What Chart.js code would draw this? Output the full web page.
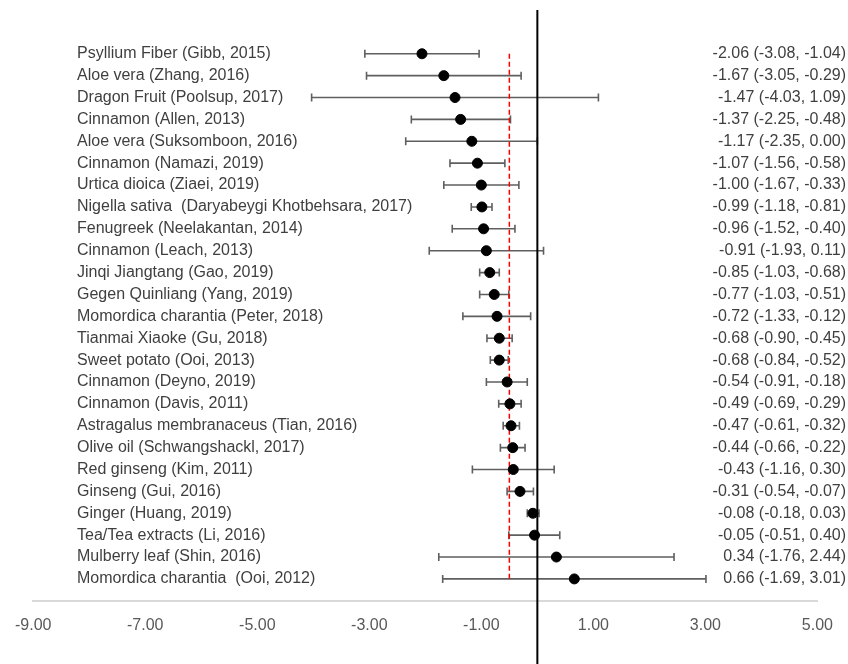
<!DOCTYPE html>
<html>
<head>
<meta charset="utf-8">
<script src="https://cdn.jsdelivr.net/npm/chart.js@4"></script>
<style>
  html, body { margin: 0; padding: 0; background: #fff; }
  #wrap { width: 848px; height: 664px; }
</style>
</head>
<body>
<div id="wrap"><canvas id="forest"></canvas></div>
<script>
const studies = [
  "Psyllium Fiber (Gibb, 2015)",
  "Aloe vera (Zhang, 2016)",
  "Dragon Fruit (Poolsup, 2017)",
  "Cinnamon (Allen, 2013)",
  "Aloe vera (Suksomboon, 2016)",
  "Cinnamon (Namazi, 2019)",
  "Urtica dioica (Ziaei, 2019)",
  "Nigella sativa  (Daryabeygi Khotbehsara, 2017)",
  "Fenugreek (Neelakantan, 2014)",
  "Cinnamon (Leach, 2013)",
  "Jinqi Jiangtang (Gao, 2019)",
  "Gegen Quinliang (Yang, 2019)",
  "Momordica charantia (Peter, 2018)",
  "Tianmai Xiaoke (Gu, 2018)",
  "Sweet potato (Ooi, 2013)",
  "Cinnamon (Deyno, 2019)",
  "Cinnamon (Davis, 2011)",
  "Astragalus membranaceus (Tian, 2016)",
  "Olive oil (Schwangshackl, 2017)",
  "Red ginseng (Kim, 2011)",
  "Ginseng (Gui, 2016)",
  "Ginger (Huang, 2019)",
  "Tea/Tea extracts (Li, 2016)",
  "Mulberry leaf (Shin, 2016)",
  "Momordica charantia  (Ooi, 2012)"
];
const effect = [-2.06, -1.67, -1.47, -1.37, -1.17, -1.07, -1.00, -0.99, -0.96, -0.91,
  -0.85, -0.77, -0.72, -0.68, -0.68, -0.54, -0.49, -0.47, -0.44, -0.43,
  -0.31, -0.08, -0.05, 0.34, 0.66];
const ciLow = [-3.08, -3.05, -4.03, -2.25, -2.35, -1.56, -1.67, -1.18, -1.52, -1.93,
  -1.03, -1.03, -1.33, -0.90, -0.84, -0.91, -0.69, -0.61, -0.66, -1.16,
  -0.54, -0.18, -0.51, -1.76, -1.69];
const ciHigh = [-1.04, -0.29, 1.09, -0.48, 0.00, -0.58, -0.33, -0.81, -0.40, 0.11,
  -0.68, -0.51, -0.12, -0.45, -0.52, -0.18, -0.29, -0.32, -0.22, 0.30,
  -0.07, 0.03, 0.40, 2.44, 3.01];
const pooledEffect = -0.50;
const xTicks = [-9, -7, -5, -3, -1, 1, 3, 5];

const rows = studies.map((s, i) => i + 1);
const ciText = effect.map((e, i) =>
  e.toFixed(2) + " (" + ciLow[i].toFixed(2) + ", " + ciHigh[i].toFixed(2) + ")");

const FONT = "'Liberation Sans', Arial, sans-serif";

// whiskers + text columns
const forestPlugin = {
  id: "forest",
  beforeDatasetsDraw(chart) {
    const { ctx, scales: { x, y } } = chart;
    ctx.save();
    ctx.strokeStyle = "#5f5f5f";
    ctx.lineWidth = 1.6;
    rows.forEach((r, i) => {
      const py = y.getPixelForValue(r);
      const x1 = x.getPixelForValue(ciLow[i]);
      const x2 = x.getPixelForValue(ciHigh[i]);
      ctx.beginPath();
      ctx.moveTo(x1, py); ctx.lineTo(x2, py);
      ctx.moveTo(x1, py - 4); ctx.lineTo(x1, py + 4);
      ctx.moveTo(x2, py - 4); ctx.lineTo(x2, py + 4);
      ctx.stroke();
    });
    ctx.restore();
  },
  afterDatasetsDraw(chart) {
    const { ctx, scales: { y } } = chart;
    ctx.save();
    ctx.fillStyle = "#3f3f3f";
    ctx.font = "16px " + FONT;
    ctx.textBaseline = "middle";
    rows.forEach((r, i) => {
      const py = y.getPixelForValue(r);
      ctx.textAlign = "left";
      ctx.fillText(studies[i], 77, py);
      ctx.textAlign = "right";
      ctx.fillText(ciText[i], 846, py);
    });
    ctx.restore();
  }
};

new Chart(document.getElementById("forest"), {
  type: "scatter",
  data: {
    datasets: [
      {
        label: "effect",
        data: effect.map((e, i) => ({ x: e, y: rows[i] })),
        pointRadius: 5,
        pointHoverRadius: 5,
        backgroundColor: "#000",
        borderColor: "#000",
        order: 0
      },
      {
        label: "zero",
        data: [{ x: 0, y: -1 }, { x: 0, y: 30 }],
        showLine: true,
        pointRadius: 0,
        borderColor: "#000",
        borderWidth: 2,
        clip: false,
        order: 1
      },
      {
        label: "pooled",
        data: [{ x: pooledEffect, y: 1 }, { x: pooledEffect, y: 25 }],
        showLine: true,
        pointRadius: 0,
        borderColor: "#ff0000",
        borderWidth: 1.5,
        borderDash: [5, 3],
        order: 2
      }
    ]
  },
  options: {
    responsive: true,
    maintainAspectRatio: false,
    animation: false,
    layout: { padding: { left: 32, right: 30, top: 10, bottom: 14 } },
    plugins: { legend: { display: false }, tooltip: { enabled: false } },
    scales: {
      x: {
        type: "linear",
        min: -9,
        max: 5,
        afterBuildTicks: (axis) => { axis.ticks = xTicks.map(v => ({ value: v })); },
        grid: { display: false, drawTicks: false },
        border: { display: true, color: "#d9d9d9", width: 2 },
        ticks: {
          padding: 15,
          color: "#595959",
          font: { family: FONT, size: 16 },
          maxRotation: 0,
          callback: (v) => Number(v).toFixed(2)
        }
      },
      y: {
        type: "linear",
        display: false,
        reverse: true,
        min: -1,
        max: 26
      }
    }
  },
  plugins: [forestPlugin]
});
</script>
</body>
</html>
